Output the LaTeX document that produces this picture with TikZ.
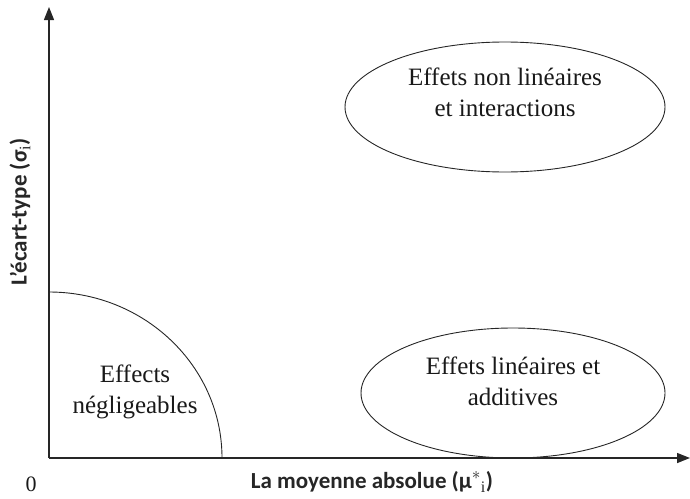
\documentclass[tikz,border=0pt]{standalone}
\usepackage{fontspec}
\setmainfont{Liberation Serif}
\newfontfamily\axisfont{Carlito}
\usetikzlibrary{shapes.geometric,arrows.meta}
\tikzset{
  axisline/.style={line width=1.4pt, draw=black!85, -{Triangle[length=13pt,width=10pt]}},
  region/.style={draw=black!85, line width=0.9pt, ellipse, inner sep=0pt},
  regiontext/.style={align=center, font=\fontsize{25}{31}\selectfont, text=black!90},
  axislabel/.style={font=\axisfont\bfseries\fontsize{23}{26}\selectfont, text=black!85},
}
\begin{document}
\begin{tikzpicture}[x=1pt,y=-1pt]
\useasboundingbox (0,0) rectangle (690,498);
\coordinate (O) at (49,458);
\coordinate (ytop) at (49,7);
\coordinate (xend) at (690,458);
\coordinate (arcstart) at (49,292);
\draw[axisline] (O) -- (ytop);
\draw[axisline] (O) -- (xend);
\draw[draw=black!85, line width=0.9pt] (arcstart) arc[start angle=90, end angle=0, x radius=173, y radius=-166];
\node[region, minimum width=320pt, minimum height=130pt] (e1) at (505,107) {};
\node[region, minimum width=304pt, minimum height=130pt] (e2) at (513,393) {};
\node[regiontext] (t1) at (505,92) {Effets non linéaires\\et interactions};
\node[regiontext] (t2) at (513,381) {Effets linéaires et\\additives};
\node[regiontext] (t3) at (135,392) {Effects\\négligeables};
\node[axislabel] (xl) at (372,482) {La moyenne absolue (μ$^{*}$$_{\mathrm{i}}$)};
\node[axislabel, rotate=90] (yl) at (20,212) {L’écart-type (σ$_{\mathrm{i}}$)};
\node[font=\fontsize{22}{26}\selectfont, text=black!90] (zero) at (31,484) {0};
\end{tikzpicture}
\end{document}
